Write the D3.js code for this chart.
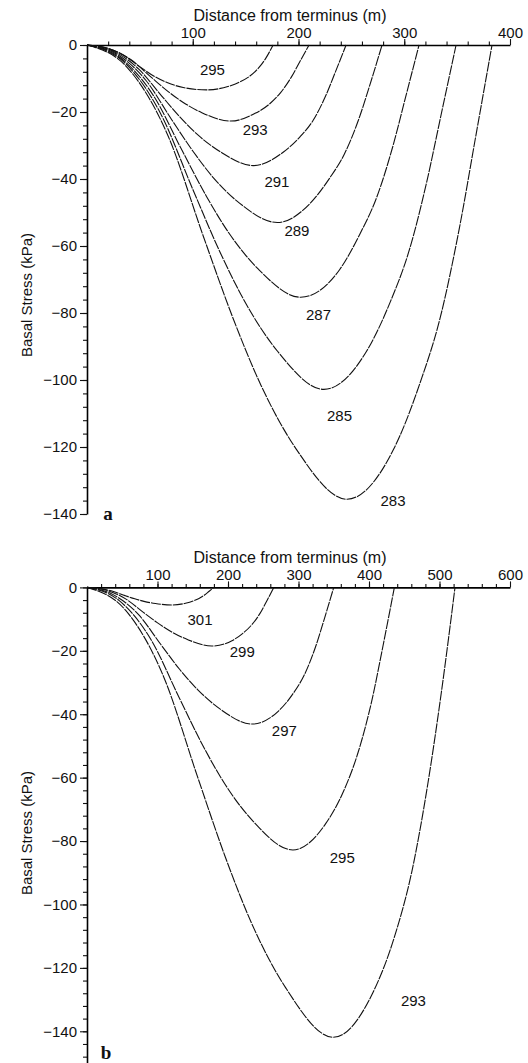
<!DOCTYPE html>
<html>
<head>
<meta charset="utf-8">
<script src="https://cdn.jsdelivr.net/npm/d3@7"></script>
<style>
  body { margin: 0; background: #fff; }
  svg { display: block; }
  text { font-family: "Liberation Sans", Arial, Helvetica, sans-serif; fill: #111; }
</style>
</head>
<body>
<svg id="chart" width="528" height="1063"></svg>
<script>
// ---- panel a: basal stress vs distance, one curve per temperature ----
const tempsA = [295, 293, 291, 289, 287, 285, 283];
const a295 = [[0,0],[17.6,-0.8],[35.2,-3.2],[50.5,-6.6],[63.4,-9.3],[75.7,-11.2],[91,-12.7],[113,-13.4],[133.2,-12.4],[144.7,-11],[153.5,-9.4],[161.9,-7],[169,-4],[176,0]];
const a293 = [[0,0],[21,-1.1],[42,-4.5],[60.3,-9.5],[75.6,-13.6],[90.3,-17],[108.6,-20.2],[136,-22.7],[159,-20.4],[172.6,-17.6],[183.1,-14.2],[193.2,-9.6],[201.6,-4.8],[210,0]];
const a291 = [[0,0],[24.5,-1.8],[49,-7.2],[70.3,-15.1],[88.2,-21.6],[105.4,-27],[126.7,-32],[157.3,-36],[185.5,-32],[201.4,-27.4],[213.6,-22.6],[225.4,-15.4],[235.2,-7.8],[245,0]];
const a289 = [[0,0],[27.9,-2.7],[55.8,-10.6],[80.1,-22.3],[100.4,-31.8],[120,-39.8],[144.2,-47.2],[180,-53],[211.2,-47.2],[229.3,-39.8],[243.3,-32.6],[256.7,-22.4],[267.8,-11.6],[279,0]];
const a287 = [[0,0],[31.4,-3.8],[62.8,-15.1],[90.1,-31.6],[113,-45.2],[135,-56.5],[162.3,-67],[202,-75.3],[239,-67],[258.1,-56.4],[273.8,-45.6],[288.9,-30.6],[301.4,-15.4],[314,0]];
const a285 = [[0,0],[34.9,-5.1],[69.8,-20.6],[100.2,-43.2],[125.6,-61.7],[150.1,-77.1],[180.4,-91.5],[224,-102.8],[264.2,-91.5],[286.9,-76.6],[304.3,-61.7],[321.1,-41.1],[335,-20.6],[349,0]];
const a283 = [[0,0],[38.3,-6.8],[76.6,-27.1],[109.9,-57],[137.9,-81.4],[164.7,-101.7],[198,-120.7],[245.9,-135.6],[289.9,-120.7],[314.8,-101],[334,-81.4],[352.4,-54.2],[367.7,-27.1],[383,0]];
const labelsA = [[118.6,-7.5],[159,-25.4],[179.6,-40.8],[198.5,-55.5],[218.9,-80.6],[238.8,-110.7],[289.4,-136.1]];
const xTicksA = [100, 200, 300, 400];
const yTicksA = [0, -20, -40, -60, -80, -100, -120, -140];

// ---- panel b ----
const tempsB = [301, 299, 297, 295, 293];
const b301 = [[0,0],[18.7,-0.4],[37.6,-1.3],[54,-2.6],[67.7,-3.6],[80.8,-4.4],[97.2,-5.1],[121,-5.55],[139.7,-5],[150.5,-4.3],[158.8,-3.5],[166.7,-2.4],[173.3,-1.2],[180,0]];
const b299 = [[0,0],[27.6,-0.9],[55.4,-3.7],[79.5,-7.8],[99.6,-11.1],[119,-13.9],[143.1,-16.5],[177,-18.5],[205.6,-16.8],[221.5,-14.4],[233.7,-11.8],[245.4,-8.2],[255.2,-4.2],[265,0]];
const b297 = [[0,0],[36.4,-2.2],[73.2,-8.6],[105,-18.1],[131.6,-25.9],[157.2,-32.3],[189,-38.4],[234,-43.1],[271.6,-39],[292.6,-33.4],[308.7,-27.4],[324.1,-18.8],[337.1,-9.6],[350,0]];
const b295 = [[0,0],[45.3,-4.1],[91.1,-16.6],[130.8,-34.8],[163.9,-49.7],[195.8,-62.1],[235.4,-73.7],[292,-82.8],[338.3,-74.6],[364.5,-64],[384.6,-52],[403.7,-36],[419.9,-18.4],[436,0]];
const b293 = [[0,0],[54.3,-7.1],[109.1,-28.4],[156.6,-59.6],[196.3,-85.1],[234.4,-106.4],[281.9,-126.3],[349.5,-141.9],[405.1,-128],[436.4,-110],[460.4,-90],[483.4,-62],[502.7,-33],[522,0]];
const labelsB = [[160.3,-10.2],[220.3,-20.2],[279.9,-45.2],[362.1,-85.3],[463,-130.3]];
const xTicksB = [100, 200, 300, 400, 500, 600];
const yTicksB = [0, -20, -40, -60, -80, -100, -120, -140];

const svg = d3.select('#chart');
const fmt = d => d < 0 ? '\u2212' + Math.abs(d) : String(d);

function drawPanel(p) {
  const x = d3.scaleLinear().domain(p.xDomain).range([87, 510]);
  const y = d3.scaleLinear().domain(p.yDomain).range(p.yRange);
  const g = svg.append('g');

  // minor ticks first, then major with labels
  g.append('g')
    .attr('transform', `translate(0,${y(0)})`)
    .call(d3.axisTop(x).tickValues(d3.range(20, p.xDomain[1], 20)).tickSize(3.5).tickFormat(''))
    .call(a => a.select('.domain').remove());
  g.append('g')
    .attr('transform', `translate(${x(0)},0)`)
    .call(d3.axisLeft(y).tickValues(d3.range(0, p.yDomain[0] - 0.1, -4)).tickSize(4).tickFormat(''))
    .call(a => a.select('.domain').remove());

  const xa = g.append('g')
    .attr('transform', `translate(0,${y(0)})`)
    .call(d3.axisTop(x).tickValues(p.xTicks).tickSize(6).tickSizeOuter(0).tickPadding(1));
  const ya = g.append('g')
    .attr('transform', `translate(${x(0)},0)`)
    .call(d3.axisLeft(y).tickValues(p.yTicks).tickSize(7).tickSizeOuter(0).tickPadding(3).tickFormat(fmt));

  [xa, ya].forEach(a => {
    a.selectAll('text').style('font-size', '15px').attr('fill', '#111');
    a.select('.domain').attr('stroke-width', 1.6);
  });
  g.selectAll('.tick line').attr('stroke', '#111').attr('stroke-width', 1.1);

  g.append('text')
    .attr('x', 290).attr('y', p.titleY)
    .attr('text-anchor', 'middle')
    .style('font-size', '16px')
    .text('Distance from terminus (m)');

  g.append('text')
    .attr('transform', `translate(32,${p.yLabelY}) rotate(-90)`)
    .attr('text-anchor', 'middle')
    .style('font-size', '15px')
    .text('Basal Stress (kPa)');

  g.append('text')
    .attr('x', p.tag[0]).attr('y', p.tag[1])
    .attr('text-anchor', 'middle')
    .style('font-family', '"Liberation Serif", "Times New Roman", serif')
    .style('font-weight', 'bold')
    .style('font-size', '19px')
    .text(p.tagText);

  const line = d3.line().x(d => x(d[0])).y(d => y(d[1])).curve(d3.curveMonotoneX);
  g.append('g').selectAll('path')
    .data(p.curves)
    .join('path')
      .attr('d', line)
      .attr('fill', 'none')
      .attr('stroke', '#111')
      .attr('stroke-width', 1.1)
      .attr('stroke-dasharray', '10,1');

  g.append('g').selectAll('text')
    .data(p.labels)
    .join('text')
      .attr('x', d => x(d[0]))
      .attr('y', d => y(d[1]))
      .attr('dy', '0.35em')
      .attr('text-anchor', 'middle')
      .style('font-size', '15px')
      .text((d, i) => p.temps[i]);
}

drawPanel({
  xDomain: [0, 400], yDomain: [-140, 0], yRange: [514, 45],
  xTicks: xTicksA, yTicks: yTicksA,
  curves: [a295, a293, a291, a289, a287, a285, a283],
  labels: labelsA, temps: tempsA,
  titleY: 21, yLabelY: 295, tag: [108, 520], tagText: 'a'
});

drawPanel({
  xDomain: [0, 600], yDomain: [-150, 0], yRange: [1063, 587.4],
  xTicks: xTicksB, yTicks: yTicksB,
  curves: [b301, b299, b297, b295, b293],
  labels: labelsB, temps: tempsB,
  titleY: 563, yLabelY: 833, tag: [106, 1059], tagText: 'b'
});
</script>
</body>
</html>
